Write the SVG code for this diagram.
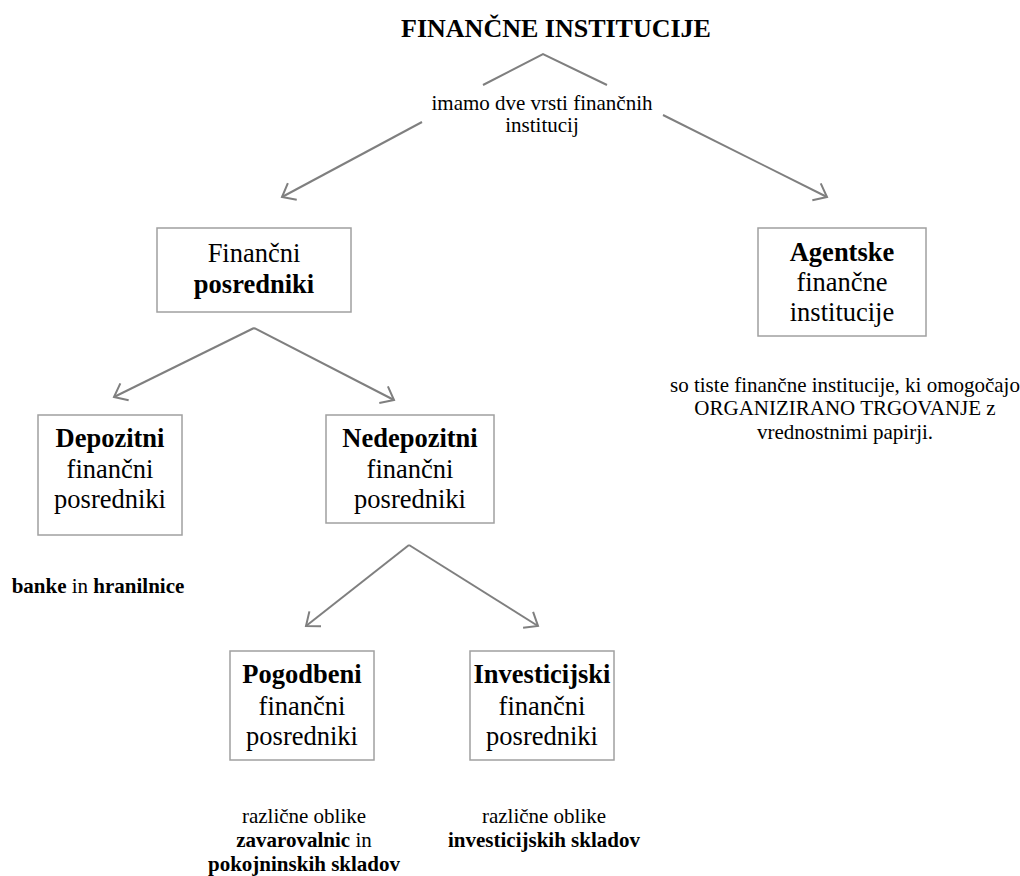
<svg xmlns="http://www.w3.org/2000/svg" width="1020" height="876" viewBox="0 0 1020 876">
<style>
text{font-family:"Liberation Serif","Times New Roman",serif;fill:#000;text-anchor:middle}
.t{font-size:26px;font-weight:bold}
.b{font-size:26.5px}
.d{font-size:21px}
.k{font-weight:bold}
.box{fill:#fff;stroke:#a0a0a0;stroke-width:1.5}
.ln{fill:none;stroke:#7f7f7f;stroke-width:2}
</style>
<defs>
<marker id="ah" markerUnits="userSpaceOnUse" markerWidth="30" markerHeight="30" viewBox="-15 -15 30 30" refX="0" refY="0" orient="auto">
<path d="M-11.7,-9.4 L0,0 L-11.7,9.4" fill="none" stroke="#7f7f7f" stroke-width="2"/>
</marker>
</defs>
<rect width="1020" height="876" fill="#fff"/>
<g id="connectors">
<polyline class="ln" points="483,85 543,54 607,85"/>
<line class="ln" x1="422" y1="122" x2="282" y2="197" marker-end="url(#ah)"/>
<line class="ln" x1="663" y1="115" x2="827" y2="197" marker-end="url(#ah)"/>
<line class="ln" x1="254" y1="328" x2="114" y2="397" marker-end="url(#ah)"/>
<line class="ln" x1="254" y1="328" x2="394" y2="400" marker-end="url(#ah)"/>
<line class="ln" x1="409" y1="545" x2="306" y2="626" marker-end="url(#ah)"/>
<line class="ln" x1="409" y1="545" x2="538" y2="626" marker-end="url(#ah)"/>
</g>
<g id="title">
<text class="t" x="556" y="37">FINANČNE INSTITUCIJE</text>
</g>
<g id="label-vrsti">
<text class="d" x="542" y="110">imamo dve vrsti finančnih</text>
<text class="d" x="542" y="132">institucij</text>
</g>
<g id="financni-posredniki">
<rect class="box" x="157" y="228" width="194" height="84"/>
<text class="b" x="254" y="262">Finančni</text>
<text class="b k" x="254" y="293">posredniki</text>
</g>
<g id="agentske">
<rect class="box" x="758" y="228" width="168" height="108"/>
<text class="b k" x="842" y="261">Agentske</text>
<text class="b" x="842" y="291">finančne</text>
<text class="b" x="842" y="321">institucije</text>
</g>
<g id="agentske-opis">
<text class="d" x="845" y="392">so tiste finančne institucije, ki omogočajo</text>
<text class="d" x="845" y="415">ORGANIZIRANO TRGOVANJE z</text>
<text class="d" x="845" y="439">vrednostnimi papirji.</text>
</g>
<g id="depozitni">
<rect class="box" x="38" y="415" width="144" height="120"/>
<text class="b k" x="110" y="447">Depozitni</text>
<text class="b" x="110" y="478">finančni</text>
<text class="b" x="110" y="508">posredniki</text>
</g>
<g id="depozitni-opis">
<text class="d" x="98" y="593"><tspan class="k">banke</tspan> in <tspan class="k">hranilnice</tspan></text>
</g>
<g id="nedepozitni">
<rect class="box" x="326" y="415" width="168" height="108"/>
<text class="b k" x="410" y="447">Nedepozitni</text>
<text class="b" x="410" y="478">finančni</text>
<text class="b" x="410" y="508">posredniki</text>
</g>
<g id="pogodbeni">
<rect class="box" x="230" y="651" width="144" height="109"/>
<text class="b k" x="302" y="683">Pogodbeni</text>
<text class="b" x="302" y="715">finančni</text>
<text class="b" x="302" y="745">posredniki</text>
</g>
<g id="pogodbeni-opis">
<text class="d" x="304" y="823">različne oblike</text>
<text class="d" x="304" y="847"><tspan class="k">zavarovalnic</tspan> in</text>
<text class="d k" x="304" y="871">pokojninskih skladov</text>
</g>
<g id="investicijski">
<rect class="box" x="470" y="651" width="144" height="109"/>
<text class="b k" x="542" y="683">Investicijski</text>
<text class="b" x="542" y="715">finančni</text>
<text class="b" x="542" y="745">posredniki</text>
</g>
<g id="investicijski-opis">
<text class="d" x="544" y="823">različne oblike</text>
<text class="d k" x="544" y="847">investicijskih skladov</text>
</g>
</svg>
